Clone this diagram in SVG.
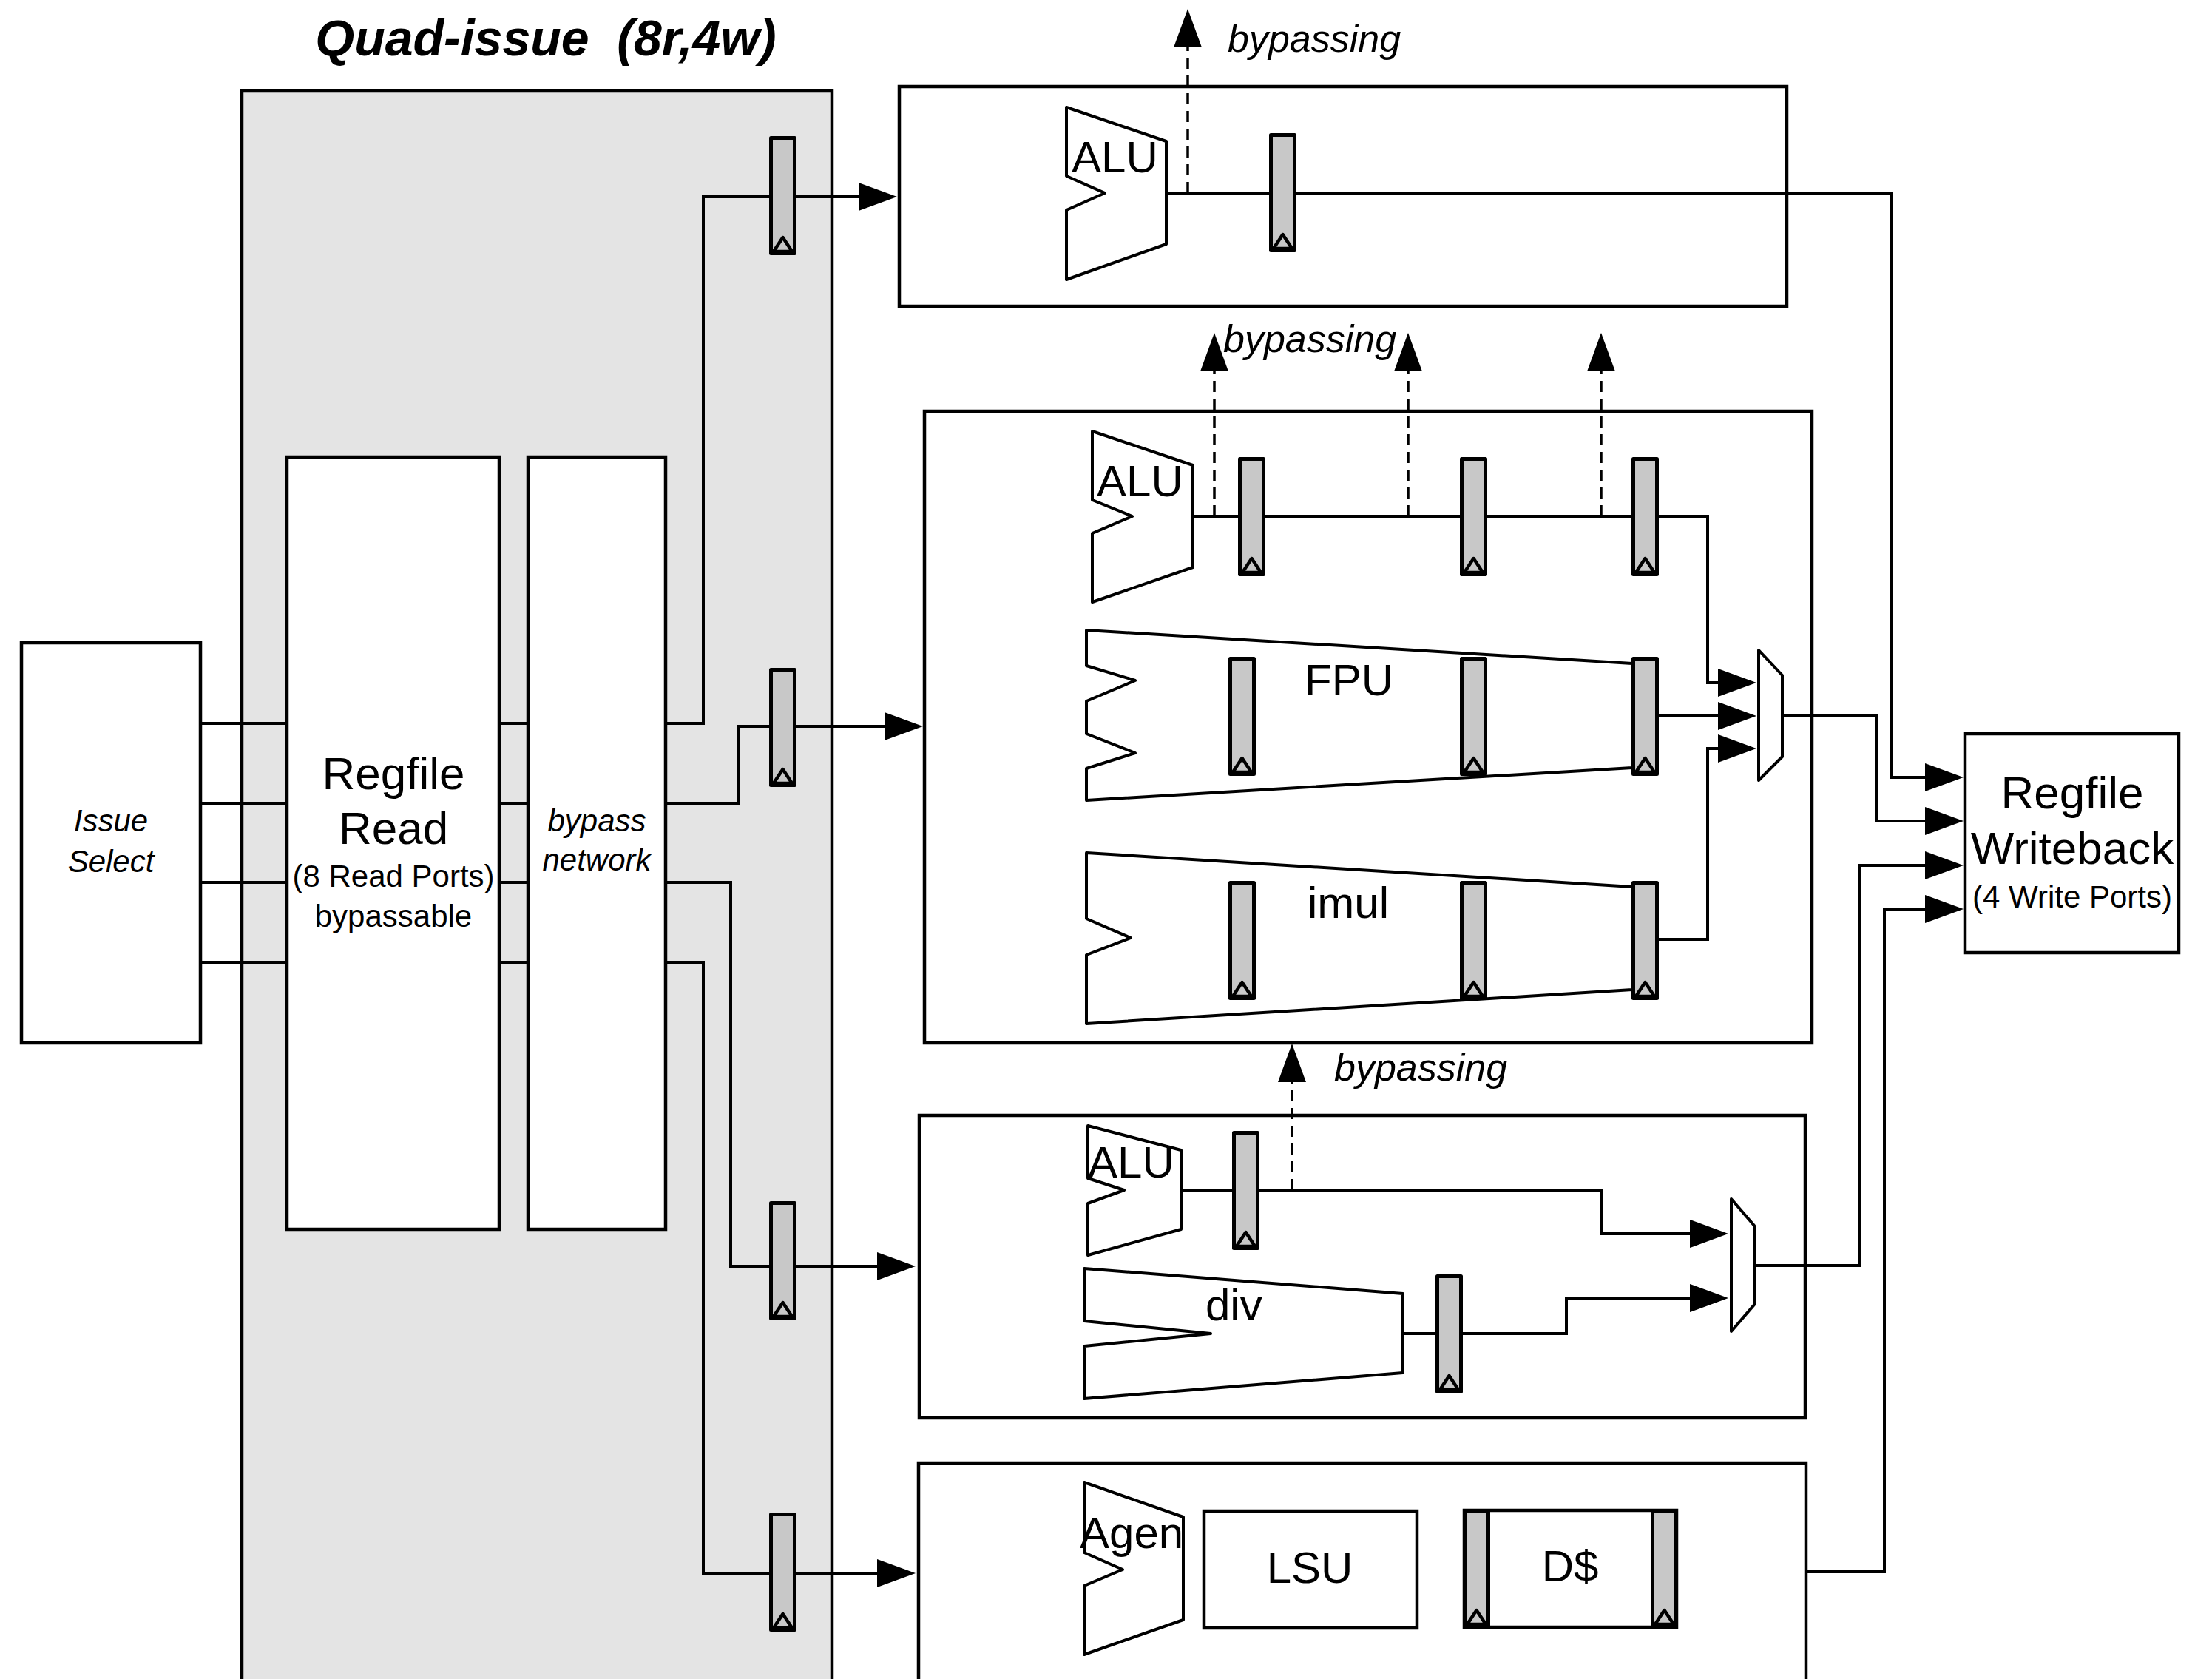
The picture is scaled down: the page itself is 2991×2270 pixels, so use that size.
<svg xmlns="http://www.w3.org/2000/svg" width="2991" height="2270" viewBox="0 0 2991 2270">
<style>
.t{font-family:"Liberation Sans",Arial,Helvetica,sans-serif;fill:#000}
.big{font-size:62px}
.med{font-size:42px}
.unit{font-size:60px}
.it{font-style:italic}
.mid{text-anchor:middle}
.byp{font-size:52px;font-style:italic}
.frame{fill:#fff;stroke:#000;stroke-width:4.5}
.shape{fill:#fff;stroke:#000;stroke-width:4;stroke-linejoin:round}
.wire{fill:none;stroke:#000;stroke-width:4}
.arr{fill:none;stroke:#000;stroke-width:4;marker-end:url(#ah)}
.dash{fill:none;stroke:#000;stroke-width:3.5;stroke-dasharray:15 9;marker-end:url(#ah)}
</style>
<defs>
<marker id="ah" markerUnits="userSpaceOnUse" viewBox="0 0 52 38" refX="12" refY="19" markerWidth="52" markerHeight="38" orient="auto">
<path d="M0,0 L52,19 L0,38 Z" fill="#000"/>
</marker>
<g id="reg">
<rect x="2.5" y="2.5" width="32" height="156" fill="#c8c8c8" stroke="#000" stroke-width="5" stroke-linejoin="round"/>
<polygon points="6,156 18.5,137 31,156" fill="#c8c8c8" stroke="#000" stroke-width="4.5" stroke-linejoin="round"/>
</g>
</defs>
<rect width="2991" height="2270" fill="#fff"/>

<g id="title">
<text class="t mid" x="738" y="75" style="font-size:68px;font-weight:bold;font-style:italic;white-space:pre">Quad-issue  (8r,4w)</text>
</g>

<g id="quad-issue">
<rect x="327" y="123" width="798" height="2200" fill="#e4e4e4" stroke="#000" stroke-width="4.5"/>
</g>

<g id="issue-select">
<rect class="frame" x="29" y="869" width="242" height="541"/>
<text class="t med it mid" x="150" y="1124">Issue</text>
<text class="t med it mid" x="150" y="1179">Select</text>
</g>

<g id="regfile-read">
<rect class="frame" x="388" y="618" width="287" height="1044"/>
<text class="t big mid" x="532" y="1067">Regfile</text>
<text class="t big mid" x="532" y="1141">Read</text>
<text class="t med mid" x="532" y="1199">(8 Read Ports)</text>
<text class="t med mid" x="532" y="1253">bypassable</text>
</g>

<g id="bypass-network">
<rect class="frame" x="714" y="618" width="186" height="1044"/>
<text class="t med it mid" x="807" y="1124">bypass</text>
<text class="t med it mid" x="807" y="1177">network</text>
</g>

<g id="unit-alu0-box"><rect class="frame" x="1216" y="117" width="1200" height="297"/></g>
<g id="unit-long-box"><rect class="frame" x="1250" y="556" width="1200" height="854"/></g>
<g id="unit-div-box"><rect class="frame" x="1243" y="1508" width="1198" height="409"/></g>
<g id="unit-mem-box"><rect class="frame" x="1242" y="1978" width="1200" height="400"/></g>

<g id="regfile-writeback">
<rect class="frame" x="2657" y="992" width="289" height="296"/>
<text class="t big mid" x="2802" y="1093">Regfile</text>
<text class="t big mid" x="2802" y="1168">Writeback</text>
<text class="t med mid" x="2802" y="1227">(4 Write Ports)</text>
</g>

<g id="connectors">
<path class="wire" d="M271,978 H388 M271,1086 H388 M271,1193 H388 M271,1301 H388"/>
<path class="wire" d="M675,978 H714 M675,1086 H714 M675,1193 H714 M675,1301 H714"/>
<path class="arr" d="M899,978 H951 V266 H1173"/>
<path class="arr" d="M899,1086 H998 V982 H1208"/>
<path class="arr" d="M899,1193 H988 V1712 H1198"/>
<path class="arr" d="M899,1301 H951 V2127 H1198"/>
<path class="arr" d="M1577,261 H2558 V1051 H2615"/>
<path class="arr" d="M1613,698 H2309 V923 H2335"/>
<path class="arr" d="M2243,968 H2335"/>
<path class="arr" d="M2243,1270 H2309 V1012 H2335"/>
<path class="arr" d="M2410,967 H2537 V1110 H2615"/>
<path class="arr" d="M1597,1609 H2165 V1668 H2297"/>
<path class="arr" d="M1897,1803 H2118 V1755 H2297"/>
<path class="arr" d="M2372,1711 H2515 V1170 H2615"/>
<path class="arr" d="M2442,2125 H2548 V1229 H2615"/>
<path class="dash" d="M1606,261 V52"/>
<path class="dash" d="M1642,698 V490"/>
<path class="dash" d="M1904,698 V490"/>
<path class="dash" d="M2165,698 V490"/>
<path class="dash" d="M1747,1609 V1451"/>
</g>

<g id="bypass-labels">
<text class="t byp" x="1660" y="70">bypassing</text>
<text class="t byp" x="1654" y="476">bypassing</text>
<text class="t byp" x="1804" y="1461">bypassing</text>
</g>

<g id="issue-regs">
<use href="#reg" x="1040" y="184"/>
<use href="#reg" x="1040" y="903"/>
<use href="#reg" x="1040" y="1624"/>
<use href="#reg" x="1040" y="2045"/>
</g>

<g id="alu0">
<polygon class="shape" points="1442,145 1577,191 1577,330 1442,378 1442,284 1494,261 1442,238"/>
<text class="t unit" x="1449" y="233">ALU</text>
<use href="#reg" x="1716" y="180"/>
</g>

<g id="alu1">
<polygon class="shape" points="1477,583 1613,629 1613,767 1477,814 1477,721 1531,698 1477,676"/>
<text class="t unit" x="1483" y="671">ALU</text>
<use href="#reg" x="1674" y="618"/>
<use href="#reg" x="1974" y="618"/>
<use href="#reg" x="2206" y="618"/>
</g>

<g id="fpu">
<polygon class="shape" points="1469,852 2207,897 2207,1038 1469,1082 1469,1039 1535,1018 1469,992 1469,948 1535,920 1469,900"/>
<text class="t unit" x="1764" y="940">FPU</text>
<use href="#reg" x="1661" y="888"/>
<use href="#reg" x="1974" y="888"/>
<use href="#reg" x="2206" y="888"/>
</g>

<g id="imul">
<polygon class="shape" points="1469,1153 2207,1199 2207,1338 1469,1384 1469,1291 1529,1268 1469,1242"/>
<text class="t unit" x="1768" y="1241">imul</text>
<use href="#reg" x="1661" y="1191"/>
<use href="#reg" x="1974" y="1191"/>
<use href="#reg" x="2206" y="1191"/>
</g>

<g id="mux1">
<polygon class="shape" points="2378,879 2410,913 2410,1023 2378,1055"/>
</g>

<g id="alu2">
<polygon class="shape" points="1471,1522 1597,1555 1597,1662 1471,1697 1471,1627 1520,1609 1471,1593"/>
<text class="t unit" x="1471" y="1592">ALU</text>
<use href="#reg" x="1666" y="1529"/>
</g>

<g id="div">
<polygon class="shape" points="1466,1715 1897,1749 1897,1856 1466,1891 1466,1820 1637,1803 1466,1786"/>
<text class="t unit" x="1630" y="1785">div</text>
<use href="#reg" x="1941" y="1723"/>
</g>

<g id="mux2">
<polygon class="shape" points="2341,1621 2372,1657 2372,1764 2341,1800"/>
</g>

<g id="agen">
<polygon class="shape" points="1466,2004 1600,2051 1600,2190 1466,2237 1466,2144 1518,2122 1466,2099"/>
<text class="t unit" x="1460" y="2093">Agen</text>
</g>

<g id="lsu">
<rect class="frame" x="1628" y="2043" width="288" height="158"/>
<text class="t unit mid" x="1771" y="2140">LSU</text>
</g>

<g id="dcache">
<rect class="frame" x="1980" y="2042" width="287" height="158"/>
<use href="#reg" x="1978" y="2040"/>
<use href="#reg" x="2232" y="2040"/>
<text class="t unit mid" x="2123" y="2138">D$</text>
</g>
</svg>
